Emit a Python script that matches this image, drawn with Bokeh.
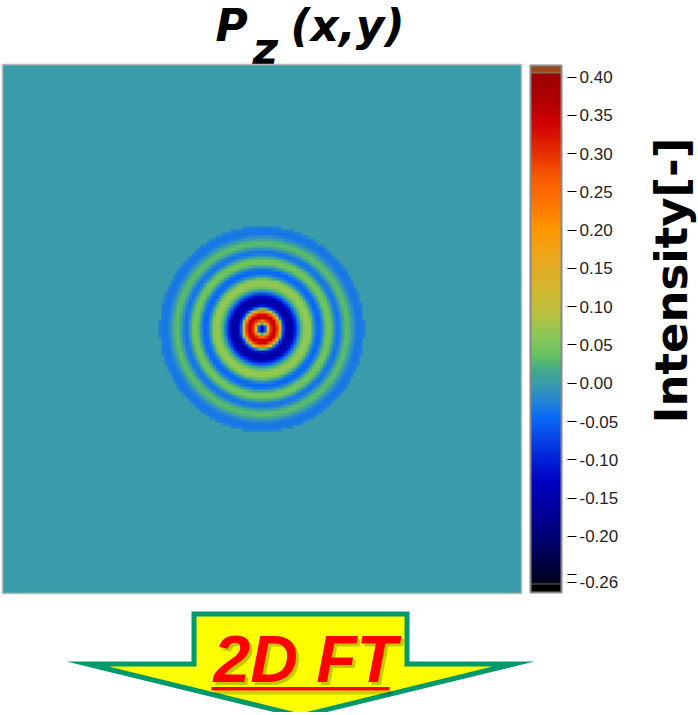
import numpy as np
from bokeh.plotting import figure
from bokeh.models import (LinearColorMapper, ColorBar, FixedTicker, Range1d, Label,
                          PrintfTickFormatter, PolyAnnotation, AllLabels)
from bokeh.embed import file_html
from bokeh.resources import INLINE

# ---- data ----
# radial profile of Pz (radius in map units, intensity [-])
ring_radius = [0, 2, 4, 6, 8, 11, 14, 17, 19, 21, 24, 27, 30, 33, 36, 39, 43, 46, 49,
               52, 55, 58, 61, 64, 67, 70, 73, 76, 79, 82, 85, 88, 91, 94, 97, 100, 102.5]
ring_value = [-0.18, -0.15, -0.02, 0.12, 0.27, 0.35, 0.34, 0.22, 0.08, -0.06, -0.14, -0.16,
              -0.15, -0.10, -0.04, 0.02, 0.065, 0.07, 0.05, -0.01, -0.045, -0.045, -0.01,
              0.04, 0.05, 0.03, -0.02, -0.04, -0.02, 0.02, 0.035, 0.02, -0.01, -0.03,
              -0.035, -0.03, -0.025]
map_size = [519, 529]          # map extent (x, y)
map_cell = 3                   # pixel cell of the map
cbar_range = [-0.2734, 0.4151]
cbar_ticks = [0.40, 0.35, 0.30, 0.25, 0.20, 0.15, 0.10, 0.05, 0.00,
              -0.05, -0.10, -0.15, -0.20, -0.25, -0.26]
cbar_label = "Intensity[-]"
title_parts = ["P", "z", "(x,y)"]
arrow_text = "2D FT"

# ---- build the 2D map from the radial profile ----
nx = map_size[0] // map_cell
ny = map_size[1] // map_cell
xc = (np.arange(nx) + 0.5) * map_size[0] / nx - map_size[0] / 2
yc = (np.arange(ny) + 0.5) * map_size[1] / ny - map_size[1] / 2
XX, YY = np.meshgrid(xc, yc)
RR = np.hypot(XX, YY)
Z = np.interp(RR, ring_radius, ring_value, right=0.0)

# ---- jet-like palette (style) ----
stops = [
    (-0.2734, "#000000"), (-0.2625, "#000000"), (-0.2620, "#707070"), (-0.2610, "#000018"),
    (-0.25, "#000030"), (-0.21, "#000068"), (-0.17, "#000098"), (-0.13, "#0000c0"),
    (-0.10, "#0020d8"), (-0.07, "#0848e8"), (-0.045, "#0868f8"), (-0.02, "#2888d0"),
    (0.00, "#3a9caa"), (0.015, "#40a890"), (0.035, "#60c060"), (0.06, "#88c858"),
    (0.09, "#b8c040"), (0.12, "#d0b830"), (0.16, "#e8a820"), (0.20, "#ff9800"),
    (0.24, "#ff7000"), (0.27, "#f85800"), (0.30, "#e83000"), (0.34, "#d00000"),
    (0.37, "#b00000"), (0.405, "#9c0000"), (0.4055, "#808080"), (0.4070, "#a04818"),
    (0.4151, "#a04818"),
]
sv = np.array([s[0] for s in stops])
srgb = np.array([[int(s[1][i:i + 2], 16) for i in (1, 3, 5)] for s in stops], dtype=float)
npal = 700
vals = cbar_range[0] + (np.arange(npal) + 0.5) * (cbar_range[1] - cbar_range[0]) / npal
palette = []
for v in vals:
    rgb = [int(round(np.interp(v, sv, srgb[:, c]))) for c in range(3)]
    palette.append("#%02x%02x%02x" % tuple(rgb))
mapper = LinearColorMapper(palette=palette, low=cbar_range[0], high=cbar_range[1])

# ---- one figure whose frame is the whole canvas (1 data unit = 1 px) ----
W, H = 698, 712
p = figure(width=W, height=H, x_range=Range1d(0, W), y_range=Range1d(0, H),
           x_axis_location=None, y_axis_location=None, toolbar_location=None,
           output_backend="svg", min_border=0)
p.title.visible = False
p.grid.visible = False
p.outline_line_color = None


def py(yp):   # page y (from top) -> data y
    return H - yp


map_left, map_top = 2, 64
p.image(image=[Z], x=map_left, y=py(map_top + map_size[1]), dw=map_size[0], dh=map_size[1],
        color_mapper=mapper)
p.quad(left=[map_left], right=[map_left + map_size[0]],
       bottom=[py(map_top + map_size[1])], top=[py(map_top)],
       fill_color=None, line_color="#b8b8b8", line_width=1.5)

cb = ColorBar(color_mapper=mapper, ticker=FixedTicker(ticks=cbar_ticks),
              formatter=PrintfTickFormatter(format="%.2f"),
              major_label_overrides={-0.25: ""}, major_label_policy=AllLabels(),
              location=(530, py(592)), width=31, height=527, padding=0, margin=0,
              bar_line_color="#888888", bar_line_width=2,
              border_line_color=None, background_fill_color=None,
              major_tick_line_color="black", major_tick_line_width=1,
              major_tick_in=-6, major_tick_out=15, label_standoff=3,
              minor_tick_line_color=None,
              major_label_text_font="Liberation Sans",
              major_label_text_font_size="17px", major_label_text_color="#222222")
p.add_layout(cb)

p.add_layout(Label(x=671, y=py(280), text=cbar_label, angle=90, angle_units="deg",
                   text_align="center", text_baseline="middle",
                   text_font="DejaVu Sans", text_font_style="bold",
                   text_font_size="45px", text_color="black"))

# ---- title (drawn under the map so the subscript tucks behind it) ----
tf = dict(text_font="DejaVu Sans", text_font_style="bold italic",
          text_font_size="44px", text_baseline="middle", text_color="black",
          level="underlay")
p.add_layout(Label(x=215, y=py(25), text=title_parts[0], **tf))
p.add_layout(Label(x=252, y=py(48), text=title_parts[1], **tf))
p.add_layout(Label(x=290, y=py(25), text=title_parts[2], **tf))

# ---- "2D FT" arrow ----
outer = [(191, 611), (409, 611), (409, 661), (534, 661), (300, 718), (66, 661), (191, 661)]
inner = [(196, 616), (404, 616), (404, 666), (492, 666), (300, 713), (108, 666), (196, 666)]
p.add_layout(PolyAnnotation(xs=[a for a, b in outer], ys=[py(b) for a, b in outer],
                            fill_color="#00996c", fill_alpha=1, line_color=None))
p.add_layout(PolyAnnotation(xs=[a for a, b in inner], ys=[py(b) for a, b in inner],
                            fill_color="#ffff00", fill_alpha=1, line_color=None))
af = dict(text_font="Liberation Sans", text_font_style="bold italic",
          text_font_size="66px", text_baseline="alphabetic")
p.add_layout(Label(x=216, y=py(661), text=arrow_text, text_color="black",
                   text_alpha=0.22, **af))
ul_x = [211, 389, 389, 211]
ul_y = [686.5, 686.5, 690, 690]
p.add_layout(PolyAnnotation(xs=[a + 3 for a in ul_x], ys=[py(b + 4) for b in ul_y],
                            fill_color="black", fill_alpha=0.18, line_color=None))
p.add_layout(Label(x=213, y=py(658), text=arrow_text, text_color="#ff0000", **af))
p.add_layout(PolyAnnotation(xs=ul_x, ys=[py(b) for b in ul_y],
                            fill_color="#ff0000", fill_alpha=1, line_color=None))

open("out.html", "w").write(file_html(p, INLINE))
